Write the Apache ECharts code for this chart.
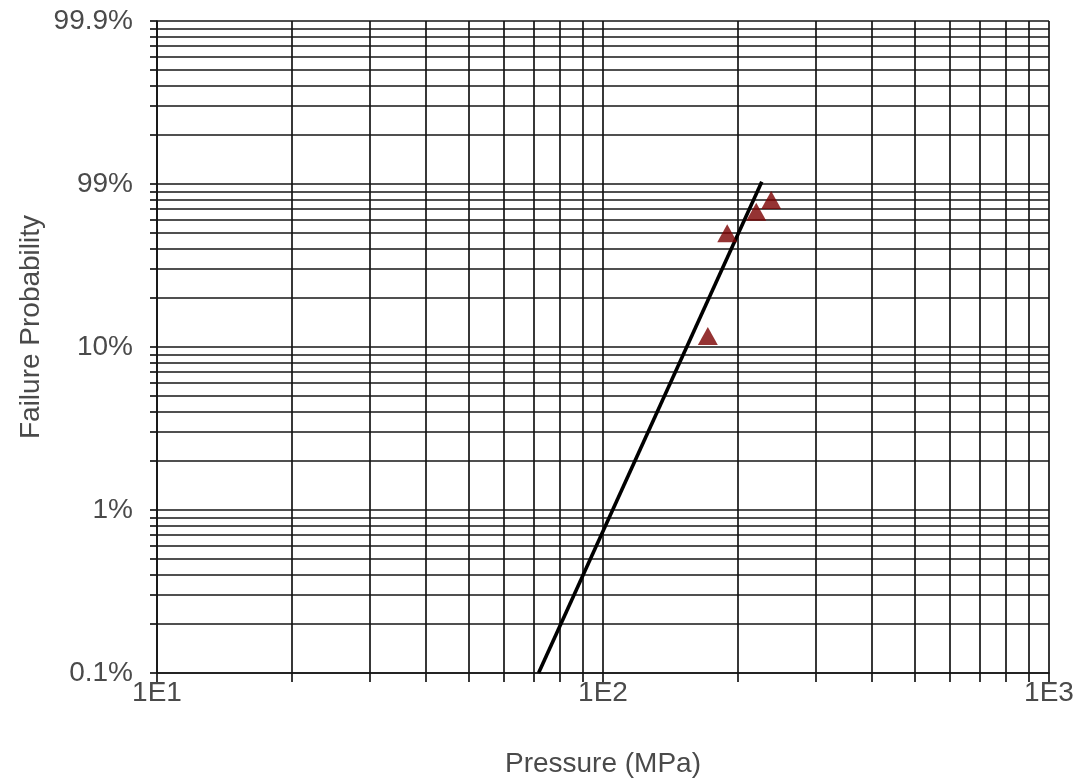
<!DOCTYPE html>
<html><head><meta charset="utf-8">
<script src="https://cdn.jsdelivr.net/npm/echarts@6/dist/echarts.min.js"></script>
<style>html,body{margin:0;padding:0;background:#fff}#c{width:1079px;height:783px}</style>
</head><body><div id="c"></div>
<script>
// Tick labels
const xTickLabels = ['1E1', '1E2', '1E3'];
const yTickLabels = ['0.1%', '1%', '10%', '99%', '99.9%'];
// Measured failures (pressure in MPa, probability in plot-axis units; 0.001 = 0.1%)
const pressure = [171.8, 189.9, 220.6, 238.3];
const probability = [0.1167, 0.498, 0.676, 0.798];
// Fitted line end points
const fitPressure = [71.7, 227];
const fitProbability = [0.001, 1.033];

function logGrid(e0, e1) {
  const out = [];
  for (let e = e0; e < e1; e++) for (let k = 1; k < 10; k++) out.push(Number((k * Math.pow(10, e)).toPrecision(6)));
  out.push(Number(Math.pow(10, e1).toPrecision(6)));
  return out;
}
const xGrid = logGrid(1, 3);
const yGrid = logGrid(-3, 1);
const xMajor = [10, 100, 1000];
const yMajor = [0.001, 0.01, 0.1, 1, 10];

const FONT = 'Liberation Sans, Arial, sans-serif';
const LBL = '#4a4a4a';
const FS = 28;
const GRID = { color: '#161616', width: 1.7 };

const chart = echarts.init(document.getElementById('c'), null, { renderer: 'canvas' });
chart.setOption({
  animation: false,
  backgroundColor: '#fff',
  grid: { left: 157, right: 30, top: 21, bottom: 110, containLabel: false },
  xAxis: {
    type: 'log', logBase: 10, min: 10, max: 1000,
    axisLine: { show: true, lineStyle: GRID },
    axisTick: { show: true, inside: false, length: 9, lineStyle: GRID, customValues: xGrid },
    axisLabel: {
      customValues: xMajor, margin: 6, color: LBL, fontFamily: FONT, fontSize: FS,
      formatter: v => xTickLabels[Math.round(Math.log10(v)) - 1]
    },
    splitLine: { show: true, lineStyle: GRID },
    name: 'Pressure (MPa)', nameLocation: 'middle', nameGap: 77,
    nameTextStyle: { color: LBL, fontFamily: FONT, fontSize: FS }
  },
  yAxis: {
    type: 'log', logBase: 10, min: 0.001, max: 10,
    axisLine: { show: true, lineStyle: GRID },
    axisTick: { show: true, inside: false, length: 7, lineStyle: GRID, customValues: yGrid },
    axisLabel: {
      customValues: yMajor, margin: 24, color: LBL, fontFamily: FONT, fontSize: FS,
      formatter: v => yTickLabels[Math.round(Math.log10(v)) + 3]
    },
    splitLine: { show: true, lineStyle: GRID }
  },
  graphic: [{
    type: 'text', x: 31, y: 327, rotation: Math.PI / 2,
    style: { text: 'Failure Probability', fill: LBL, font: FS + 'px ' + FONT, textAlign: 'center', textVerticalAlign: 'middle' }
  }],
  series: [
    {
      type: 'line', name: 'fit',
      data: fitPressure.map((p, i) => [p, fitProbability[i]]),
      symbol: 'none', lineStyle: { color: '#000', width: 3.6 }, clip: false, z: 3
    },
    {
      type: 'scatter', name: 'data',
      data: pressure.map((p, i) => [p, probability[i]]),
      symbol: 'triangle', symbolSize: [20, 18],
      itemStyle: { color: '#7a0000' }, z: 4
    }
  ]
});
</script>
</body></html>
